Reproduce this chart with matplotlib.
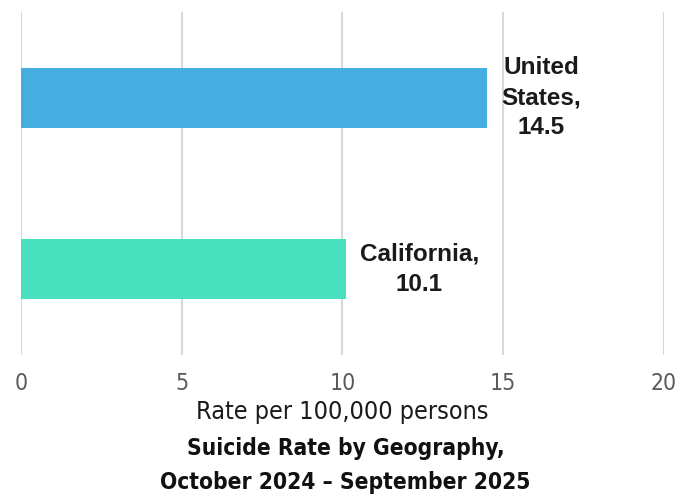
import matplotlib
matplotlib.use("Agg")
import matplotlib.pyplot as plt

# data
categories = ["United States", "California"]
rates = [14.5, 10.1]
bar_labels = ["United\nStates,\n14.5", "California,\n10.1"]
colors = ["#45ADE0", "#48E0BD"]
xticks = [0, 5, 10, 15, 20]
xlabel = "Rate per 100,000 persons"
title = "Suicide Rate by Geography,\nOctober 2024 \u2013 September 2025"

fig = plt.figure(figsize=(6.91, 4.96), dpi=100)
ax = fig.add_axes([0.0304, 0.2843, 0.9305, 0.6915])

ypos = list(range(len(categories)))
ax.barh(ypos, rates, height=0.35, color=colors, zorder=2)
ax.set_ylim(len(categories) - 0.5, -0.5)
ax.set_xlim(0, 20)
ax.set_yticks([])
ax.set_xticks(xticks)
ax.set_xticklabels([str(t) for t in xticks], fontsize=16.5, color="#595959",
                   family="DejaVu Sans", stretch="condensed")
ax.tick_params(axis="x", length=0, pad=12)
ax.grid(axis="x", color="#d9d9d9", linewidth=1.5, zorder=0)
for s in ax.spines.values():
    s.set_visible(False)

for y, v, lab in zip(ypos, rates, bar_labels):
    ax.annotate(lab, (v, y), xytext=(14, 0), textcoords="offset pixels",
                ha="left", va="center", multialignment="center",
                fontsize=17.5, fontweight="bold", color="#1a1a1a",
                family=["Liberation Sans", "DejaVu Sans"], linespacing=1.38)

ax.set_xlabel(xlabel, fontsize=18, color="#1a1a1a", family="DejaVu Sans",
              stretch="condensed", labelpad=4)
fig.text(0.5, 0.004, title, ha="center", va="bottom", fontsize=16.3,
         fontweight="bold", color="#111111", family="DejaVu Sans",
         stretch="condensed", linespacing=1.6)

fig.savefig("out.png", dpi=100)
